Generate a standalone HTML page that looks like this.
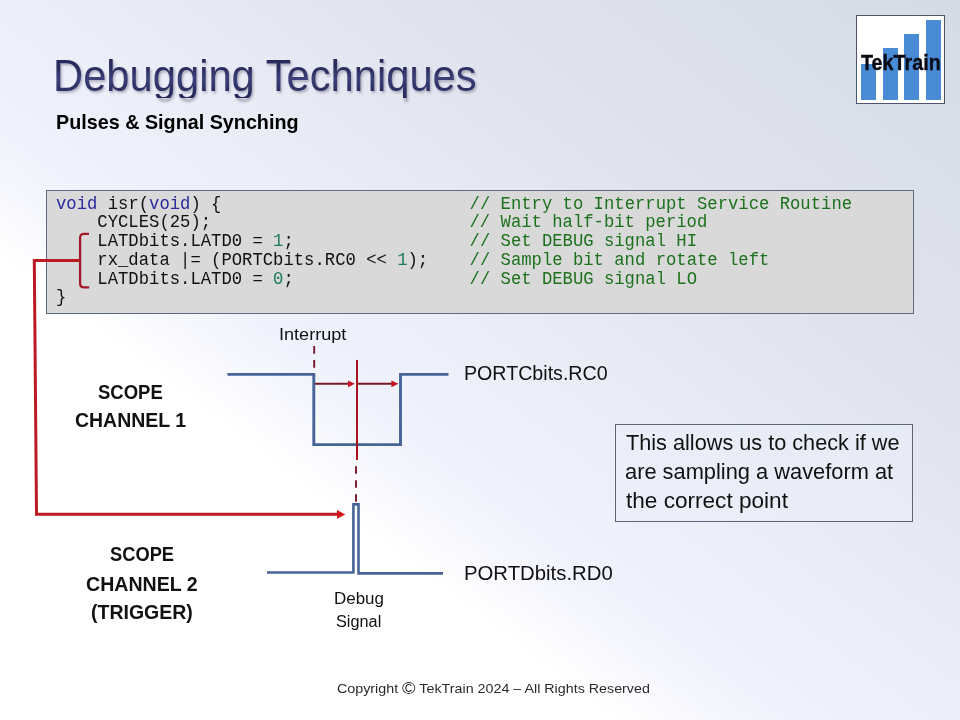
<!DOCTYPE html>
<html><head><meta charset="utf-8"><style>
*{margin:0;padding:0;box-sizing:border-box}
html,body{width:960px;height:720px;overflow:hidden}
body{position:relative;background:linear-gradient(to top right,#ffffff 0%,#ffffff 32%,#eff1fc 42%,#eceef8 50%,#e0e3ed 72%,#dfe2ec 76%,#d5dbe3 100%);font-family:"Liberation Sans", sans-serif}
.t{position:absolute;white-space:pre;line-height:1;transform-origin:0 0}
#titlesh{color:transparent;text-shadow:1.5px 2px 2.5px rgba(30,30,60,.3)}
#title{background:linear-gradient(180deg,#26285a 0%,#2a2c5e 30%,#3d4079 55%,#303366 75%,#26285a 100%);-webkit-background-clip:text;background-clip:text;-webkit-text-fill-color:transparent}
#logo{-webkit-text-stroke:0.35px #0a0a14}
#codebox{position:absolute;left:46px;top:190px;width:868px;height:124px;background:#d9d9da;border:1px solid #5f6a85}
#code{position:absolute;left:56.20px;top:194.69px;font-family:"Liberation Mono", monospace;font-size:18.200px;line-height:18.74px;white-space:pre;color:#111111;transform:scaleX(0.9472);transform-origin:0 0}
#logo-box{position:absolute;left:856px;top:15px;width:89px;height:89px;background:#fff;border:1px solid #4d5566}
.bar{position:absolute;background:#4a8bd6}
#note{position:absolute;left:615px;top:424px;width:298px;height:98px;border:1px solid #5a6578;background:rgba(236,239,250,.5)}
svg{position:absolute;left:0;top:0}
</style></head>
<body>
<div id="logo-box"></div>
<div class="bar" style="left:861.25px;top:64.20px;width:14.45px;height:36.00px"></div><div class="bar" style="left:883.10px;top:48.30px;width:14.50px;height:51.90px"></div><div class="bar" style="left:904.40px;top:34.00px;width:14.35px;height:66.20px"></div><div class="bar" style="left:926.40px;top:20.40px;width:14.20px;height:79.80px"></div>
<div id="codebox"></div>
<div id="code"><span style="color:#2a2a9c">void</span> isr(<span style="color:#2a2a9c">void</span>) {                        <span style="color:#1c721c">// Entry to Interrupt Service Routine</span>
    CYCLES(25);                         <span style="color:#1c721c">// Wait half-bit period</span>
    LATDbits.LATD0 = <span style="color:#1d7a5c">1</span>;                 <span style="color:#1c721c">// Set DEBUG signal HI</span>
    rx_data |= (PORTCbits.RC0 &lt;&lt; <span style="color:#1d7a5c">1</span>);    <span style="color:#1c721c">// Sample bit and rotate left</span>
    LATDbits.LATD0 = <span style="color:#1d7a5c">0</span>;                 <span style="color:#1c721c">// Set DEBUG signal LO</span>
}</div>
<div id="note"></div>
<svg width="960" height="720" viewBox="0 0 960 720">
<g fill="none" stroke-linejoin="miter" stroke-linecap="butt">
<polyline points="227.4,374.4 313.8,374.4 313.8,444.6 400.5,444.6 400.5,374.4 448.5,374.4" stroke="#476496" stroke-width="2.9"/>
<polyline points="267,572.5 353.4,572.5 353.4,504.4 358.5,504.4 358.5,573.4 443,573.4" stroke="#476496" stroke-width="2.6"/>
<line x1="314.2" y1="346" x2="314.2" y2="368" stroke="#741828" stroke-width="1.9" stroke-dasharray="7.7,6.3"/>
<line x1="357" y1="360" x2="357" y2="460" stroke="#a3141f" stroke-width="2"/>
<line x1="356" y1="466.2" x2="356" y2="502.5" stroke="#741828" stroke-width="1.9" stroke-dasharray="7.6,6.4"/>
<line x1="315" y1="383.8" x2="349" y2="383.8" stroke="#741828" stroke-width="2"/>
<path d="M348,380.4 L354.8,383.8 L348,387.2 z" fill="#c8101e" stroke="none"/>
<line x1="358" y1="383.8" x2="392" y2="383.8" stroke="#741828" stroke-width="2"/>
<path d="M391.4,380.4 L398.4,383.8 L391.4,387.2 z" fill="#c8101e" stroke="none"/>
<path d="M80,260.5 L34.3,260.5 L36.5,514.3 L338,514.3" stroke="#bc1a22" stroke-width="3"/>
<path d="M337,510 L345.3,514.4 L337,518.8 z" fill="#d81018" stroke="none"/>
<path d="M89,233.8 L84,233.8 Q80.1,233.8 80.1,237.8 L80.1,283.6 Q80.1,287.4 84,287.4 L89.2,287.4" stroke="#a3192a" stroke-width="2.3"/>
</g>
</svg>
<div class="t" style="left:52.54px;top:54.77px;font-size:43.50px;font-weight:normal;transform:scaleX(0.9590);" id="titlesh">Debugging Techniques</div><div class="t" style="left:52.54px;top:54.77px;font-size:43.50px;font-weight:normal;color:#2b2d5e;transform:scaleX(0.9590);" id="title">Debugging Techniques</div><div class="t" style="left:56.36px;top:112.89px;font-size:19.62px;font-weight:bold;color:#000;transform:scaleX(1.0072);" id="sub">Pulses &amp; Signal Synching</div><div class="t" style="left:861.25px;top:51.89px;font-size:22.09px;font-weight:bold;color:#0a0a14;transform:scaleX(0.8944);" id="logo">TekTrain</div><div class="t" style="left:279.38px;top:326.49px;font-size:16.42px;font-weight:normal;color:#111;transform:scaleX(1.1028);" id="intr">Interrupt</div><div class="t" style="left:464.07px;top:362.92px;font-size:20.64px;font-weight:normal;color:#111;transform:scaleX(0.9518);" id="rc0">PORTCbits.RC0</div><div class="t" style="left:464.01px;top:563.42px;font-size:20.06px;font-weight:normal;color:#111;transform:scaleX(1.0139);" id="rd0">PORTDbits.RD0</div><div class="t" style="left:97.91px;top:380.86px;font-size:21.08px;font-weight:bold;color:#111;transform:scaleX(0.8779);" id="scope1">SCOPE</div><div class="t" style="left:74.59px;top:410.32px;font-size:20.64px;font-weight:bold;color:#111;transform:scaleX(0.9431);" id="ch1">CHANNEL 1</div><div class="t" style="left:110.21px;top:544.38px;font-size:20.93px;font-weight:bold;color:#111;transform:scaleX(0.8743);" id="scope2">SCOPE</div><div class="t" style="left:85.89px;top:574.12px;font-size:20.06px;font-weight:bold;color:#111;transform:scaleX(0.9766);" id="ch2">CHANNEL 2</div><div class="t" style="left:90.99px;top:603.29px;font-size:19.62px;font-weight:bold;color:#111;transform:scaleX(0.9937);" id="trig">(TRIGGER)</div><div class="t" style="left:334.28px;top:590.52px;font-size:16.86px;font-weight:normal;color:#111;transform:scaleX(1.0059);" id="debug">Debug</div><div class="t" style="left:336.19px;top:612.86px;font-size:17.30px;font-weight:normal;color:#111;transform:scaleX(0.9418);" id="signal">Signal</div><div class="t" style="left:625.76px;top:432.16px;font-size:21.66px;font-weight:normal;color:#111;transform:scaleX(1.0011);" id="t1">This allows us to check if we</div><div class="t" style="left:625.42px;top:461.06px;font-size:21.66px;font-weight:normal;color:#111;transform:scaleX(1.0079);" id="t2">are sampling a waveform at</div><div class="t" style="left:626.10px;top:489.96px;font-size:21.66px;font-weight:normal;color:#111;transform:scaleX(1.0427);" id="t3">the correct point</div><div class="t" style="left:337.33px;top:682.08px;font-size:13.37px;font-weight:normal;color:#2a2a2a;transform:scaleX(1.0695);" id="copy">Copyright <span style="font-size:1.28em;line-height:0;vertical-align:-0.08em">©</span> TekTrain 2024 – All Rights Reserved</div>
</body></html>
